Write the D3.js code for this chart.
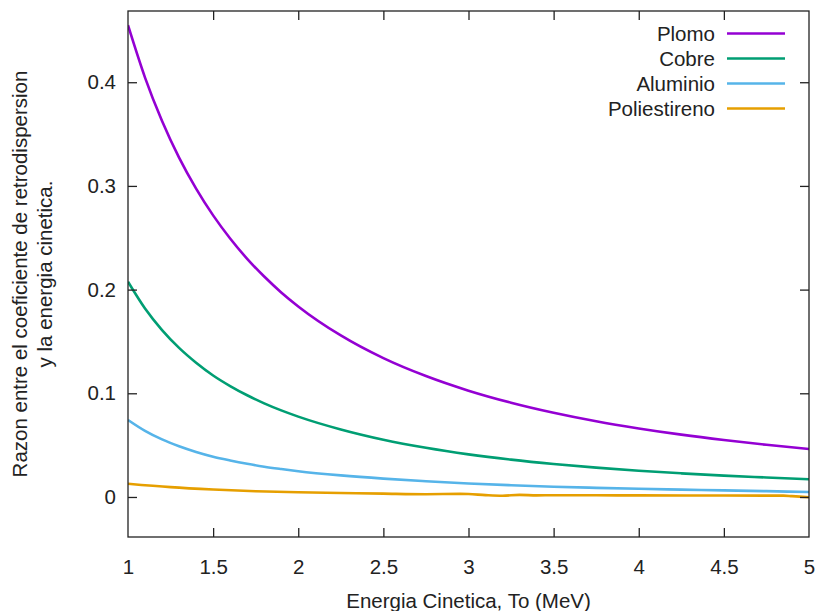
<!DOCTYPE html>
<html>
<head>
<meta charset="utf-8">
<script src="https://cdn.jsdelivr.net/npm/d3@7"></script>
<style>
  html, body { margin: 0; padding: 0; background: #fff; }
  svg { display: block; }
  text { font-family: "Liberation Sans", Arial, sans-serif; fill: #222; }
</style>
</head>
<body>
<svg id="chart" width="818" height="611"></svg>
<script>
// ---- data ----
const energy = [1, 1.1, 1.2, 1.3, 1.4, 1.5, 1.6, 1.7, 1.8, 1.9, 2, 2.25, 2.5, 2.75, 3, 3.25, 3.5, 3.75, 4, 4.25, 4.5, 4.75, 5];
const plomo = [0.455, 0.4045, 0.3626, 0.3273, 0.2974, 0.2716, 0.2493, 0.2297, 0.2126, 0.1973, 0.1838, 0.1558, 0.1339, 0.1166, 0.1025, 0.0909, 0.0812, 0.0730, 0.0661, 0.0601, 0.0549, 0.0503, 0.0463];
const cobre = [0.2076, 0.1818, 0.161, 0.1438, 0.1295, 0.1172, 0.107, 0.0981, 0.0903, 0.0835, 0.0775, 0.0651, 0.0552, 0.0474, 0.0411, 0.0360, 0.0318, 0.0283, 0.0253, 0.0228, 0.0206, 0.0188, 0.0171];
const aluminio = [0.0743, 0.0638, 0.0555, 0.0489, 0.0434, 0.0388, 0.0352, 0.0320, 0.0292, 0.0269, 0.0248, 0.0208, 0.0177, 0.0152, 0.0130, 0.0113, 0.0099, 0.0088, 0.0079, 0.0071, 0.0064, 0.0056, 0.0048];
const energyPoli = [1, 1.25, 1.5, 1.75, 2, 2.25, 2.5, 2.75, 2.95, 3.0, 3.1, 3.2, 3.3, 3.4, 3.5, 3.75, 4, 4.5, 4.85, 4.9, 5];
const poliestireno = [0.0128, 0.0095, 0.0072, 0.0055, 0.0045, 0.0038, 0.0032, 0.0027, 0.0030, 0.0028, 0.0018, 0.0012, 0.0020, 0.0015, 0.0017, 0.0016, 0.0015, 0.0014, 0.0013, 0.0008, -0.0002];

const seriesNames = ["Plomo", "Cobre", "Aluminio", "Poliestireno"];
const seriesColors = ["#9400d3", "#009e73", "#56b4e9", "#e69f00"];
const xTicks = [1, 1.5, 2, 2.5, 3, 3.5, 4, 4.5, 5];
const yTicks = [0, 0.1, 0.2, 0.3, 0.4];
const xTitle = "Energia Cinetica, To (MeV)";
const yTitle = ["Razon entre el coeficiente de retrodispersion", "y la energia cinetica."];

const series = [
  { name: seriesNames[0], color: seriesColors[0], xs: energy, ys: plomo },
  { name: seriesNames[1], color: seriesColors[1], xs: energy, ys: cobre },
  { name: seriesNames[2], color: seriesColors[2], xs: energy, ys: aluminio },
  { name: seriesNames[3], color: seriesColors[3], xs: energyPoli, ys: poliestireno }
];

// ---- layout ----
const L = 128, R = 809, T = 11, B = 537;
const svg = d3.select("#chart");
const x = d3.scaleLinear().domain([1, 5]).range([L, R]);
const y = d3.scaleLinear().domain([-0.0386, 0.4687]).range([B, T]);
const FS = "20.5px";
const tickLen = 9;

// curves
svg.append("clipPath").attr("id", "clip").append("rect")
  .attr("x", L).attr("y", T).attr("width", R - L).attr("height", B - T);
const line = d3.line().x(d => x(d[0])).y(d => y(d[1])).curve(d3.curveMonotoneX);
series.forEach(s => {
  const pts = s.xs.map((v, i) => [v, s.ys[i]]);
  svg.append("path")
    .attr("d", line(pts))
    .attr("fill", "none")
    .attr("stroke", s.color)
    .attr("stroke-width", 2.6)
    .attr("stroke-linejoin", "round")
    .attr("clip-path", "url(#clip)");
});

// axes (ticks inward, mirrored)
const axisColor = "#222";
const gB = svg.append("g").attr("transform", `translate(0,${B})`)
  .call(d3.axisBottom(x).tickValues(xTicks).tickSize(-tickLen).tickPadding(22).tickFormat(d3.format("~g")));
const gT = svg.append("g").attr("transform", `translate(0,${T})`)
  .call(d3.axisTop(x).tickValues(xTicks).tickSize(-tickLen).tickFormat(""));
const gL = svg.append("g").attr("transform", `translate(${L},0)`)
  .call(d3.axisLeft(y).tickValues(yTicks).tickSize(-tickLen).tickPadding(12).tickFormat(d3.format("~g")));
const gR = svg.append("g").attr("transform", `translate(${R},0)`)
  .call(d3.axisRight(y).tickValues(yTicks).tickSize(-tickLen).tickFormat(""));
[gB, gT, gL, gR].forEach(g => {
  g.select(".domain").remove();
  g.selectAll(".tick line").attr("stroke", axisColor).attr("stroke-width", 1.3);
  g.selectAll(".tick text").style("font-size", FS).attr("fill", "#222")
    .style("font-family", '"Liberation Sans", Arial, sans-serif');
});
gB.selectAll(".tick text").attr("dy", "0.71em");
gT.selectAll(".tick").filter(d => d === 1 || d === 5).select("line").remove();
gB.selectAll(".tick").filter(d => d === 1 || d === 5).select("line").remove();

svg.append("rect").attr("x", L).attr("y", T).attr("width", R - L).attr("height", B - T)
  .attr("fill", "none").attr("stroke", axisColor).attr("stroke-width", 1.3);

// axis titles
svg.append("text").attr("x", (L + R) / 2).attr("y", 608)
  .attr("text-anchor", "middle").style("font-size", FS).text(xTitle);
const yt = svg.append("text").attr("transform", `translate(27,${(T + B) / 2}) rotate(-90)`)
  .attr("text-anchor", "middle").style("font-size", FS);
yTitle.forEach((t, i) => yt.append("tspan").attr("x", 0).attr("y", i * 25).text(t));

// legend
const lg = svg.append("g");
series.forEach((s, i) => {
  const ly = 33.5 + i * 25;
  lg.append("text").attr("x", 715).attr("y", ly).attr("dy", "0.35em")
    .attr("text-anchor", "end").style("font-size", FS).text(s.name);
  lg.append("line").attr("x1", 727).attr("x2", 785).attr("y1", ly).attr("y2", ly)
    .attr("stroke", s.color).attr("stroke-width", 2.6);
});
</script>
</body>
</html>
